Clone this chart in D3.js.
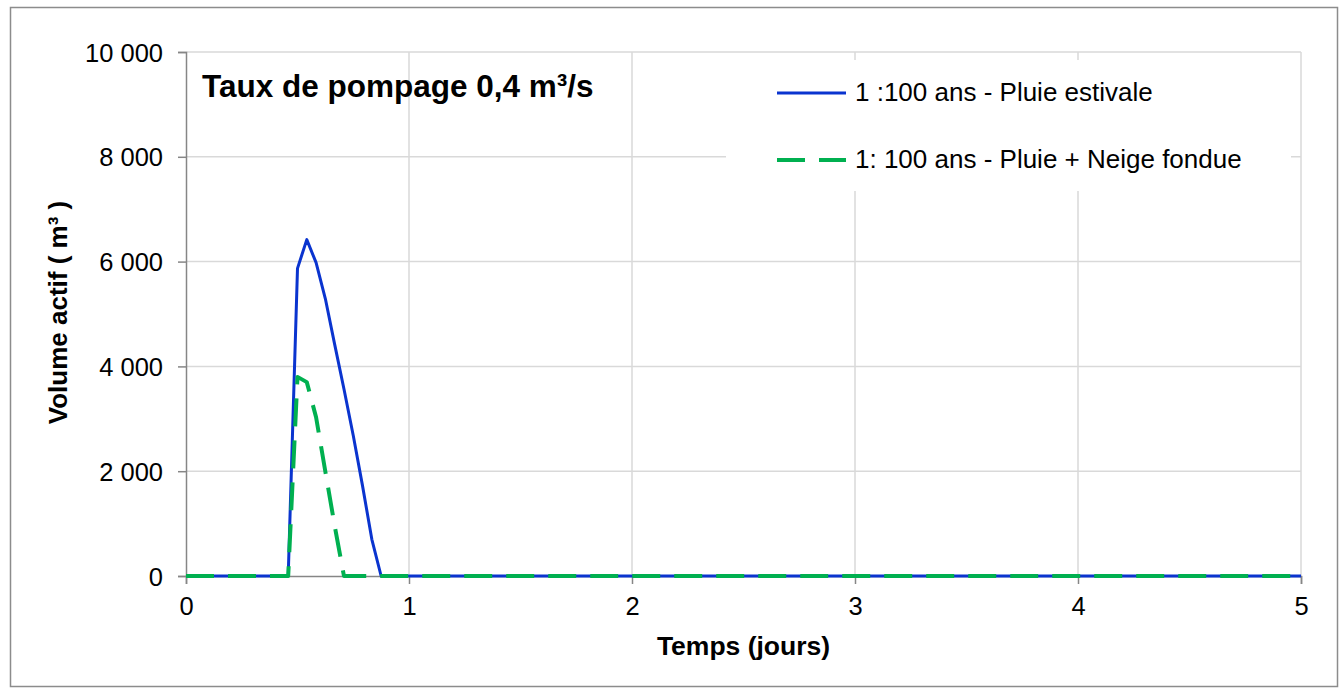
<!DOCTYPE html>
<html>
<head>
<meta charset="utf-8">
<script src="https://cdn.jsdelivr.net/npm/d3@7"></script>
<style>
  html, body { margin: 0; padding: 0; background: #fff; }
  svg { display: block; font-family: "Liberation Sans", Arial, sans-serif; }
</style>
</head>
<body>
<svg id="chart" width="1342" height="690"></svg>
<script>
// ---- Data (time in hours, volume in m³) ----
const chartTitle = "Taux de pompage 0,4 m³/s";
const xTitle = "Temps (jours)";
const yTitle = "Volume actif ( m³ )";
const seriesNames = ["1 :100 ans - Pluie estivale", "1: 100 ans - Pluie + Neige fondue"];

const estivaleHours  = [0, 11, 12,   13,   14,   15,   16,   17,   18,   19,   20,  21, 120];
const estivaleValues = [0, 0,  5870, 6420, 5980, 5290, 4420, 3570, 2680, 1720, 700, 0,  0];

const neigeHours  = [0, 11, 12,   13,   14,   15,   16,  17, 120];
const neigeValues = [0, 0,  3800, 3700, 3030, 1990, 960, 0,  0];

const xTicks = [0, 1, 2, 3, 4, 5];
const yTicks = [0, 2000, 4000, 6000, 8000, 10000];

// ---- Layout ----
const svg = d3.select("#chart");
const locale = d3.formatLocale({decimal: ",", thousands: " ", grouping: [3], currency: ["", ""]});
const fmt = locale.format(",d");

const x = d3.scaleLinear().domain([0, 5]).range([186, 1301]);
const y = d3.scaleLinear().domain([0, 10000]).range([576, 52]);

// outer border
svg.append("rect")
  .attr("x", 10.5).attr("y", 7.5).attr("width", 1327).attr("height", 679)
  .attr("fill", "#fff").attr("stroke", "#8c8c8c").attr("stroke-width", 1.5);

// gridlines
const grid = svg.append("g");
grid.selectAll("line.h").data(yTicks.filter(d => d > 0)).join("line")
  .attr("x1", x(0)).attr("x2", x(5))
  .attr("y1", d => y(d)).attr("y2", d => y(d))
  .attr("stroke", "#d9d9d9").attr("stroke-width", 1.5);
grid.selectAll("line.v").data(xTicks.filter(d => d > 0)).join("line")
  .attr("x1", d => x(d)).attr("x2", d => x(d))
  .attr("y1", y(0)).attr("y2", y(10000))
  .attr("stroke", "#d9d9d9").attr("stroke-width", 1.5);

// axes
const axisColor = "#868686";
const yAxis = svg.append("g").attr("transform", `translate(${x(0)},0)`)
  .call(d3.axisLeft(y).tickValues(yTicks).tickFormat(fmt).tickSize(8).tickPadding(15));
const xAxis = svg.append("g").attr("transform", `translate(0,${y(0)})`)
  .call(d3.axisBottom(x).tickValues(xTicks).tickFormat(d3.format("d")).tickSize(8).tickPadding(13));
[yAxis, xAxis].forEach(a => {
  a.select(".domain").attr("stroke", axisColor).attr("stroke-width", 1.5);
  a.selectAll(".tick line").attr("stroke", axisColor).attr("stroke-width", 1.5);
  a.selectAll(".tick text").attr("fill", "#000").style("font-size", "25.5px")
    .style("font-family", '"Liberation Sans", Arial, sans-serif');
});
yAxis.selectAll(".tick text").attr("dy", "0.36em");
xAxis.selectAll(".tick text").attr("dy", "0.71em");

// legend background (hides gridlines)
svg.append("rect").attr("x", 726).attr("y", 60).attr("width", 565).attr("height", 131).attr("fill", "#fff");

// series
const xh = h => x(h / 24);
const line = d3.line().x(d => xh(d[0])).y(d => y(d[1]));
const estivale = estivaleHours.map((h, i) => [h, estivaleValues[i]]);
const neige = neigeHours.map((h, i) => [h, neigeValues[i]]);

const blue = "#0a34cf", green = "#00b050";
svg.append("path").datum(estivale).attr("d", line)
  .attr("fill", "none").attr("stroke", blue).attr("stroke-width", 3).attr("stroke-linejoin", "round");
svg.append("path").datum(neige).attr("d", line)
  .attr("fill", "none").attr("stroke", green).attr("stroke-width", 4)
  .attr("stroke-dasharray", "28,14").attr("stroke-linejoin", "round");

// legend
const legend = svg.append("g");
const legY = [93, 160];
legend.append("line").attr("x1", 777).attr("x2", 846).attr("y1", legY[0]).attr("y2", legY[0])
  .attr("stroke", blue).attr("stroke-width", 3);
legend.append("line").attr("x1", 777).attr("x2", 846).attr("y1", legY[1]).attr("y2", legY[1])
  .attr("stroke", green).attr("stroke-width", 4).attr("stroke-dasharray", "28,14");
legend.selectAll("text").data(seriesNames).join("text")
  .attr("x", 855).attr("y", (d, i) => legY[i] + 8)
  .style("font-size", "26px").attr("fill", "#000").text(d => d);

// chart title
svg.append("text").attr("x", 202).attr("y", 97)
  .style("font-size", "31.5px").style("font-weight", "bold").attr("fill", "#000").text(chartTitle);

// axis titles
svg.append("text").attr("x", (x(0) + x(5)) / 2).attr("y", 655).attr("text-anchor", "middle")
  .style("font-size", "26.5px").style("font-weight", "bold").attr("fill", "#000").text(xTitle);
svg.append("text").attr("transform", "translate(67,312.5) rotate(-90)").attr("text-anchor", "middle")
  .style("font-size", "26px").style("font-weight", "bold").attr("fill", "#000").text(yTitle);
</script>
</body>
</html>
